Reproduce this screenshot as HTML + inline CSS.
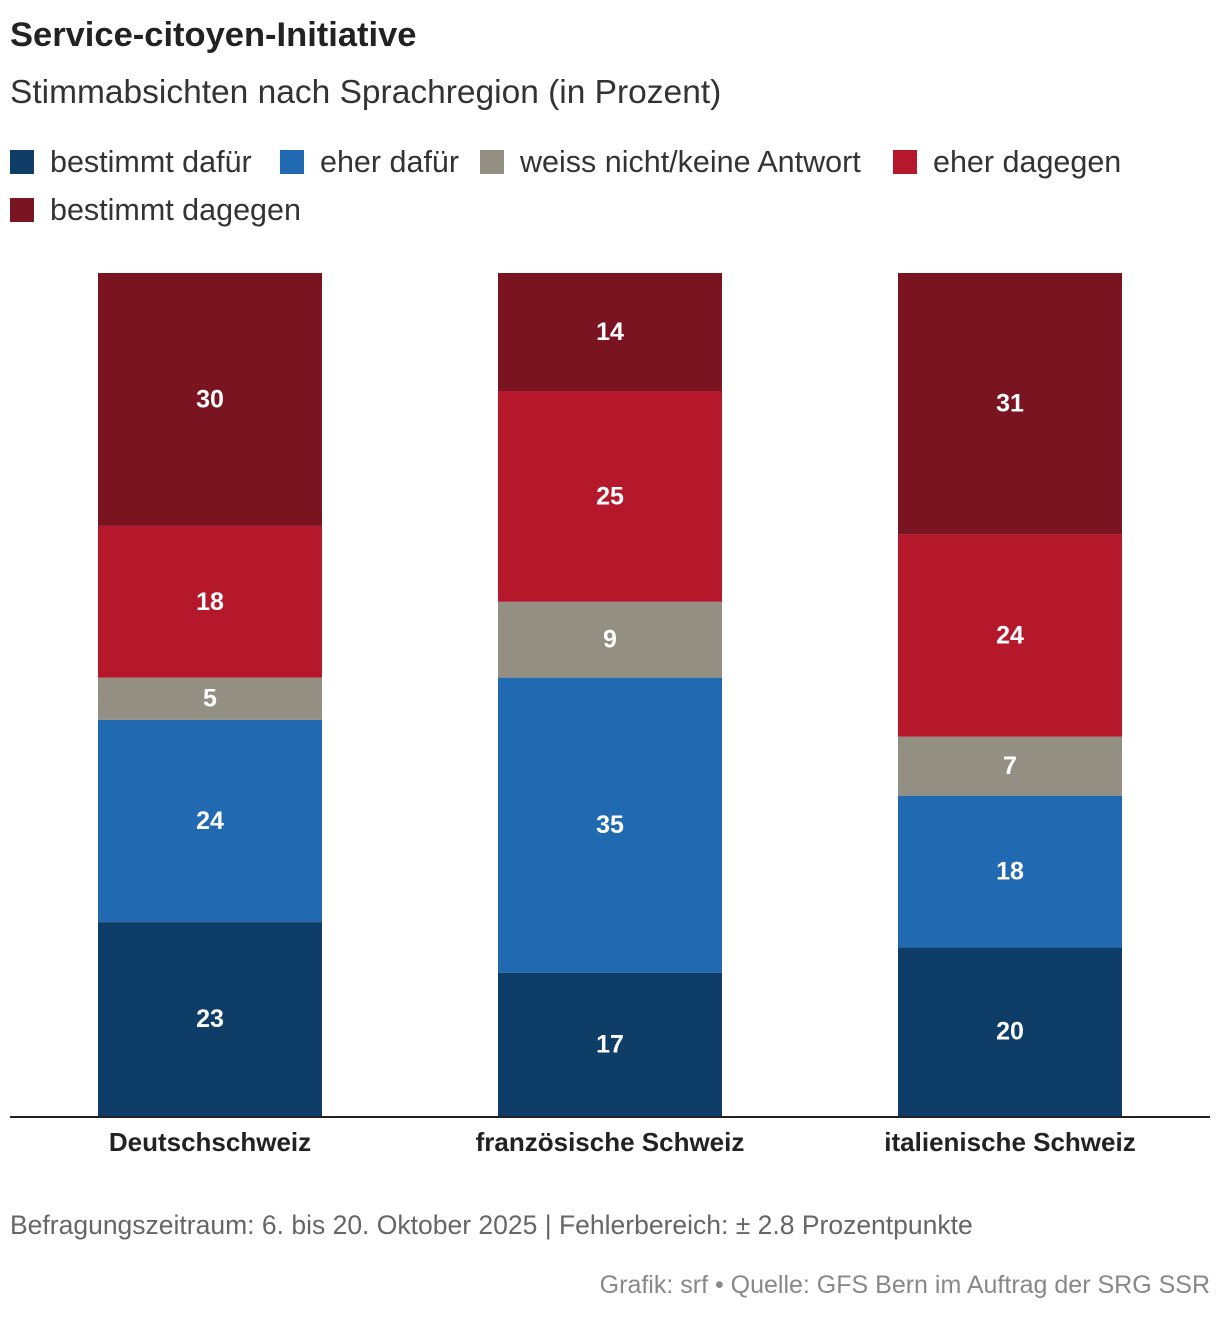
<!DOCTYPE html>
<html><head><meta charset="utf-8">
<style>
body{margin:0;background:#fff;font-family:"Liberation Sans","DejaVu Sans",sans-serif;color:#222;}
#wrap{position:relative;width:1220px;height:1318px;overflow:hidden;}
.t{position:absolute;white-space:nowrap;}
</style></head><body>
<div id="wrap">
<div class="t" style="left:10px;top:16px;font-size:34.5px;font-weight:bold;color:#222;">Service-citoyen-Initiative</div>
<div class="t" style="left:10px;top:74px;font-size:33.5px;color:#333;">Stimmabsichten nach Sprachregion (in Prozent)</div>
<div id="legend"></div>
<svg id="chart" width="1220" height="1318" style="position:absolute;left:0;top:0"></svg>
<div class="t" style="left:10px;top:1210px;font-size:26.5px;color:#666;">Befragungszeitraum: 6. bis 20. Oktober 2025 | Fehlerbereich: ± 2.8 Prozentpunkte</div>
<div class="t" style="right:10px;top:1271px;font-size:25px;color:#888;">Grafik: srf • Quelle: GFS Bern im Auftrag der SRG SSR</div>
</div>
<script>
const categories = ["Deutschschweiz","französische Schweiz","italienische Schweiz"];
const seriesNames = ["bestimmt dafür","eher dafür","weiss nicht/keine Antwort","eher dagegen","bestimmt dagegen"];
const bestimmtDafuer = [23,17,20];
const eherDafuer = [24,35,18];
const weissNicht = [5,9,7];
const eherDagegen = [18,25,24];
const bestimmtDagegen = [30,14,31];
const series = [bestimmtDafuer,eherDafuer,weissNicht,eherDagegen,bestimmtDagegen];
const colors = ["#0e3d67","#2169b0","#948f83","#b5172b","#7a1420"];

const NS="http://www.w3.org/2000/svg";
const svg=document.getElementById('chart');
const y0=1116, pxPer=8.43;
const yScale=v=>y0-v*pxPer;
const xCenter=i=>210+i*400;
const barW=224;

const leg=document.getElementById('legend');
const legPos=[[10,145],[280,145],[480,145],[893,145],[10,193]];
seriesNames.forEach((n,i)=>{
  const d=document.createElement('div');
  d.className='t';
  
  
  d.style.left=legPos[i][0]+'px';d.style.top=legPos[i][1]+'px';d.style.fontSize='30.5px';d.style.color='#333';
  d.innerHTML='<span style="display:inline-block;width:24px;height:24px;background:'+colors[i]+';vertical-align:-2px;margin-right:16px"></span>'+n;
  leg.appendChild(d);
});

categories.forEach((c,i)=>{
  let cum=0;
  series.forEach((s,k)=>{
    const v=s[i];
    const top=yScale(cum+v), bot=yScale(cum);
    const r=document.createElementNS(NS,'rect');
    r.setAttribute('x',xCenter(i)-barW/2);r.setAttribute('y',top);
    r.setAttribute('width',barW);r.setAttribute('height',bot-top);
    r.setAttribute('fill',colors[k]);
    
    
    svg.appendChild(r);
    const t=document.createElementNS(NS,'text');
    t.setAttribute('x',xCenter(i));t.setAttribute('y',(top+bot)/2+8);
    t.setAttribute('text-anchor','middle');t.setAttribute('fill','#fff');
    t.setAttribute('font-size','25');t.setAttribute('font-weight','bold');
    t.setAttribute('font-family','Liberation Sans, sans-serif');
    t.textContent=v;
    
    
    svg.appendChild(t);
    cum+=v;
  });
  const l=document.createElementNS(NS,'text');
  l.setAttribute('x',xCenter(i));l.setAttribute('y',1151);
  l.setAttribute('text-anchor','middle');l.setAttribute('fill','#222');
  l.setAttribute('font-size','26');l.setAttribute('font-weight','bold');
  l.setAttribute('font-family','Liberation Sans, sans-serif');
  l.textContent=c;
  
  
  svg.appendChild(l);
});
const ax=document.createElementNS(NS,'line');
ax.setAttribute('x1',10);ax.setAttribute('x2',1210);ax.setAttribute('y1',y0+1);ax.setAttribute('y2',y0+1);
ax.setAttribute('stroke','#222');ax.setAttribute('stroke-width','2');


svg.appendChild(ax);
</script>
</body></html>
